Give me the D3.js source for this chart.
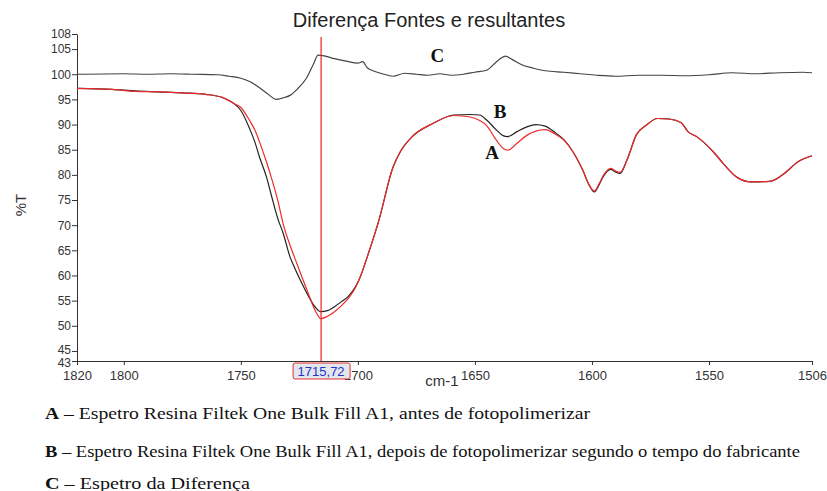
<!DOCTYPE html>
<html>
<head>
<meta charset="utf-8">
<script src="https://cdn.jsdelivr.net/npm/d3@7"></script>
<style>
  body { margin: 0; background: #fff; }
  .axis text { font-family: Arial, "Liberation Sans", sans-serif; font-size: 13px; fill: #333; }
  .axis path, .axis line { stroke: #333; }
</style>
</head>
<body>
<div class="chart"></div>
<script>
// spectra A / B share the same wavenumbers
var wnAB = [1820, 1805, 1795, 1785, 1775, 1765, 1758, 1753, 1750, 1746, 1744, 1742, 1739, 1737,
  1734, 1732, 1729, 1727, 1724, 1721, 1719, 1717, 1716, 1713, 1710, 1707, 1704, 1701, 1699,
  1696, 1691, 1685, 1682, 1677, 1668, 1659, 1652, 1648, 1645, 1641, 1638, 1636, 1632, 1628,
  1624, 1620, 1616, 1612, 1608, 1604, 1601, 1599, 1597, 1595, 1592, 1590, 1588, 1585, 1581,
  1577, 1572, 1567, 1562, 1559, 1555, 1548, 1544, 1538, 1532, 1524, 1518, 1512, 1506];
var valuesB = [97.2, 97.0, 96.7, 96.5, 96.3, 96.0, 95.4, 94.2, 92.8, 88.9, 86.5, 83.5, 79.5, 76.0,
  71.0, 68.5, 63.7, 61.5, 58.5, 55.8, 54.2, 53.1, 52.8, 53.0, 53.8, 54.8, 55.9, 57.8, 59.7,
  63.7, 71.0, 81.5, 84.5, 87.5, 90.2, 91.9, 92.0, 91.9, 90.9, 89.0, 87.8, 87.6, 88.6, 89.5,
  90.0, 89.7, 88.5, 87.0, 84.5, 81.0, 77.8, 76.6, 78.0, 79.8, 81.1, 80.6, 80.3, 83.0, 88.0,
  89.8, 91.2, 91.1, 90.4, 88.6, 87.5, 84.5, 82.3, 79.5, 78.6, 78.7, 80.2, 82.6, 83.8];
var valuesA = [97.2, 97.0, 96.6, 96.5, 96.3, 96.0, 95.4, 94.2, 93.4, 90.6, 88.9, 86.5, 82.5, 79.5,
  74.5, 70.4, 66.0, 63.5, 59.8, 56.2, 53.8, 52.0, 51.4, 51.9, 52.8, 54.0, 55.5, 57.6, 59.7,
  63.7, 71.0, 81.5, 84.5, 87.5, 90.2, 91.8, 91.5, 90.8, 89.8, 87.0, 85.3, 84.9, 86.3, 87.8,
  88.7, 89.0, 88.2, 86.9, 84.5, 81.0, 77.8, 76.8, 78.2, 80.0, 81.3, 80.8, 80.5, 83.0, 88.0,
  89.8, 91.2, 91.1, 90.4, 88.6, 87.5, 84.5, 82.3, 79.5, 78.6, 78.7, 80.2, 82.6, 83.8];

// difference spectrum C
var wnC = [1820, 1800, 1790, 1780, 1770, 1760, 1755, 1750, 1746, 1742, 1738, 1735, 1732, 1729,
  1726, 1722, 1719, 1717, 1714, 1710, 1705, 1700, 1698, 1696, 1693, 1688, 1685, 1680, 1675,
  1670, 1665, 1660, 1655, 1650, 1645, 1640, 1637, 1634, 1630, 1625, 1620, 1612, 1605, 1598,
  1590, 1580, 1570, 1560, 1550, 1540, 1530, 1520, 1510, 1506];
var valuesC = [100.0, 100.1, 100.0, 100.1, 100.0, 99.9, 99.6, 99.2, 98.5, 97.3, 95.9, 95.0, 95.3, 95.8,
  97.0, 99.2, 102.0, 103.8, 103.6, 103.1, 102.6, 102.2, 102.5, 101.3, 100.6, 99.9, 99.6, 100.2, 100.0,
  99.8, 100.1, 99.8, 100.0, 100.4, 100.8, 102.8, 103.6, 102.9, 101.9, 101.2, 100.7, 100.4, 100.1, 99.8,
  99.6, 99.8, 99.8, 99.7, 99.9, 100.3, 100.1, 100.3, 100.4, 100.3];

var xTicks = [1820, 1800, 1750, 1700, 1650, 1600, 1550, 1506];
var yTicks = [43, 45, 50, 55, 60, 65, 70, 75, 80, 85, 90, 95, 100, 105, 108];
var cursorWn = 1715.72;

var legendLines = [
  ["A", " \u2013 Espetro Resina Filtek One Bulk Fill A1, antes de fotopolimerizar"],
  ["B", " \u2013 Espetro Resina Filtek One Bulk Fill A1,  depois de fotopolimerizar segundo o tempo do fabricante"],
  ["C", " \u2013 Espetro da Diferen\u00e7a"]
];

var svgWidth = 827;
var svgHeight = 491;

var svg = d3.select(".chart")
  .append("svg")
  .attr("width", svgWidth)
  .attr("height", svgHeight);

var x = d3.scaleLinear().domain([1820, 1506]).range([77, 812]);
var y = d3.scaleLinear().domain([43, 108]).range([361, 34]);

// title
svg.append("text")
  .attr("x", 429)
  .attr("y", 27)
  .attr("text-anchor", "middle")
  .style("font-family", "Arial, 'Liberation Sans', sans-serif")
  .style("font-size", "20px")
  .style("fill", "#222")
  .text("Diferença Fontes e resultantes");

// axes
svg.append("g")
  .attr("class", "axis")
  .attr("transform", "translate(0,361)")
  .call(d3.axisBottom(x).tickValues(xTicks).tickFormat(d3.format("d")).tickSize(4).tickSizeOuter(0))
  .selectAll("text").attr("dy", "0.95em");

var yAxis = svg.append("g")
  .attr("class", "axis")
  .attr("transform", "translate(77,0)")
  .call(d3.axisLeft(y).tickValues(yTicks).tickFormat(d3.format("d")).tickSize(5).tickSizeOuter(0));
yAxis.selectAll("text")
  .attr("x", -6)
  .style("font-size", "12px")
  .attr("dy", d => d === 43 ? "0.42em" : d === 45 ? "0.22em" : "0.32em");

// axis titles
svg.append("text")
  .attr("transform", "translate(26,205) rotate(-90)")
  .attr("text-anchor", "middle")
  .style("font-family", "Arial, 'Liberation Sans', sans-serif")
  .style("font-size", "15px")
  .style("fill", "#333")
  .text("%T");

svg.append("text")
  .attr("x", 442)
  .attr("y", 386)
  .attr("text-anchor", "middle")
  .style("font-family", "Arial, 'Liberation Sans', sans-serif")
  .style("font-size", "15px")
  .style("fill", "#333")
  .text("cm-1");

// spectra
var line = d3.line()
  .x(d => x(d[0]))
  .y(d => y(d[1]))
  .curve(d3.curveMonotoneX);

svg.append("path")
  .datum(d3.zip(wnC, valuesC))
  .attr("d", line)
  .attr("fill", "none")
  .attr("stroke", "#444")
  .attr("stroke-width", 1.2);

svg.append("path")
  .datum(d3.zip(wnAB, valuesB))
  .attr("d", line)
  .attr("fill", "none")
  .attr("stroke", "#222")
  .attr("stroke-width", 1.2);

svg.append("path")
  .datum(d3.zip(wnAB, valuesA))
  .attr("d", line)
  .attr("fill", "none")
  .attr("stroke", "#ee2a2a")
  .attr("stroke-width", 1.2);

// cursor line
svg.append("line")
  .attr("x1", x(cursorWn)).attr("x2", x(cursorWn))
  .attr("y1", 37).attr("y2", 361)
  .attr("stroke", "#ee2020")
  .attr("stroke-width", 1.2);

var cursorLabel = svg.append("g")
  .attr("transform", `translate(${x(cursorWn)}, 371)`);
cursorLabel.append("rect")
  .attr("x", -28).attr("y", -8)
  .attr("width", 57).attr("height", 16)
  .attr("rx", 2)
  .attr("fill", "#e4e6ee")
  .attr("stroke", "#e23030");
cursorLabel.append("text")
  .attr("text-anchor", "middle")
  .attr("dy", "0.36em")
  .style("font-family", "Arial, 'Liberation Sans', sans-serif")
  .style("font-size", "13px")
  .style("fill", "#2233cc")
  .text("1715,72");

// curve letters
var letters = [["C", 1666, 102.4], ["B", 1639.3, 91.3], ["A", 1642.7, 83.1]];
svg.selectAll(".letter")
  .data(letters)
  .enter()
  .append("text")
  .attr("class", "letter")
  .attr("x", d => x(d[1]))
  .attr("y", d => y(d[2]))
  .attr("text-anchor", "middle")
  .style("font-family", "'Liberation Serif', 'Times New Roman', serif")
  .style("font-weight", "bold")
  .style("font-size", "19px")
  .style("fill", "#111")
  .text(d => d[0]);

// caption under chart
var legendWidths = [545, 755, 205];
var legendY = [419, 457, 489];
legendLines.forEach(function(l, i) {
  var t = svg.append("text")
    .attr("x", 45)
    .attr("y", legendY[i])
    .attr("textLength", legendWidths[i])
    .attr("lengthAdjust", "spacingAndGlyphs")
    .style("font-family", "'Liberation Serif', 'Times New Roman', serif")
    .style("font-size", "16px")
    .style("fill", "#111");
  t.append("tspan").style("font-weight", "bold").text(l[0]);
  t.append("tspan").text(l[1]);
});
</script>
</body>
</html>
